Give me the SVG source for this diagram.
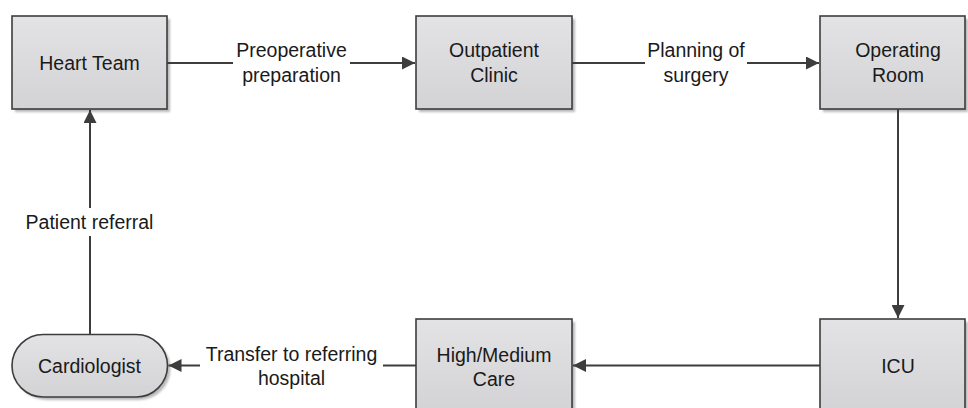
<svg xmlns="http://www.w3.org/2000/svg" width="968" height="408" viewBox="0 0 968 408">
<defs>
<linearGradient id="g" x1="0" y1="0" x2="0" y2="1">
<stop offset="0" stop-color="#e3e3e5"/>
<stop offset="1" stop-color="#d3d3d5"/>
</linearGradient>
<filter id="sh" x="-10%" y="-10%" width="130%" height="130%">
<feGaussianBlur stdDeviation="1"/>
</filter>
<marker id="arr" markerUnits="userSpaceOnUse" markerWidth="14" markerHeight="13" refX="13" refY="6.5" orient="auto">
<path d="M0,0 L13,6.5 L0,13 Z" fill="#3d3d3d"/>
</marker>
<style>
.box{fill:url(#g);stroke:#3d3d3d;stroke-width:1.6}
.shadow{fill:#8c8c8c;opacity:0.6;filter:url(#sh)}
.t{font-family:"Liberation Sans",Arial,sans-serif;font-size:19.5px;fill:#1a1a1a;text-anchor:middle}
.c{fill:none;stroke:#3d3d3d;stroke-width:2}
</style>
</defs>
<rect width="968" height="408" fill="#ffffff"/>

<g id="heart-team">
<rect class="shadow" x="15" y="19" width="155" height="93"/>
<rect class="box" x="12" y="16" width="155" height="93"/>
<text class="t" x="89.5" y="70">Heart Team</text>
</g>

<g id="outpatient-clinic">
<rect class="shadow" x="419" y="19" width="156" height="93"/>
<rect class="box" x="416" y="16" width="156" height="93"/>
<text class="t" x="494" y="57">Outpatient</text>
<text class="t" x="494" y="82">Clinic</text>
</g>

<g id="operating-room">
<rect class="shadow" x="823" y="19" width="145" height="93"/>
<rect class="box" x="820" y="16" width="145" height="93"/>
<text class="t" x="898" y="57">Operating</text>
<text class="t" x="898" y="82">Room</text>
</g>

<g id="icu">
<rect class="shadow" x="823" y="322" width="145" height="93"/>
<rect class="box" x="820" y="319" width="145" height="93"/>
<text class="t" x="898" y="373">ICU</text>
</g>

<g id="high-medium-care">
<rect class="shadow" x="419" y="322" width="156" height="93"/>
<rect class="box" x="416" y="319" width="156" height="93"/>
<text class="t" x="494" y="362">High/Medium</text>
<text class="t" x="494" y="386">Care</text>
</g>

<g id="cardiologist">
<rect class="shadow" x="15" y="337.5" width="155.5" height="62.5" rx="31.25"/>
<rect class="box" x="12" y="334.5" width="155.5" height="62.5" rx="31.25"/>
<text class="t" x="89.5" y="373">Cardiologist</text>
</g>

<g id="connectors">
<path class="c" d="M167,63 L233,63 M350,63 L415,63" marker-end="url(#arr)"/>
<path class="c" d="M572,63 L645,63 M747,63 L819,63" marker-end="url(#arr)"/>
<path class="c" d="M898,109 L898,318" marker-end="url(#arr)"/>
<path class="c" d="M820,365.5 L573,365.5" marker-end="url(#arr)"/>
<path class="c" d="M416,365.5 L383,365.5 M200,365.5 L168.5,365.5" marker-end="url(#arr)"/>
<path class="c" d="M90,334.5 L90,236 M90,208 L90,110" marker-end="url(#arr)"/>
</g>

<g id="labels">
<text class="t" x="291.5" y="57">Preoperative</text>
<text class="t" x="291.5" y="82">preparation</text>
<text class="t" x="696" y="57">Planning of</text>
<text class="t" x="696" y="82">surgery</text>
<text class="t" x="291.5" y="361">Transfer to referring</text>
<text class="t" x="291.5" y="385">hospital</text>
<text class="t" x="89.5" y="229">Patient referral</text>
</g>
</svg>
